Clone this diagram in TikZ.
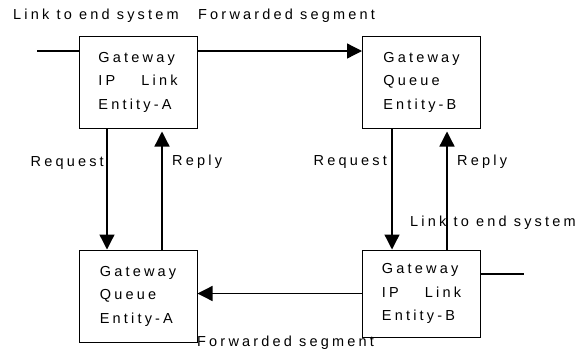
\documentclass[tikz,border=0pt]{standalone}
\usepackage{fontspec}
\setmainfont{Liberation Sans}[LetterSpace=22]
\usetikzlibrary{arrows.meta, positioning, calc}

\begin{document}
\begin{tikzpicture}[
  x=1pt, y=-1pt,
  gw/.style={draw, line width=1pt, minimum width=118pt, minimum height=92pt,
             align=left, font=\fontsize{14.5}{23.5}\selectfont},
  lbl/.style={font=\fontsize{14.5}{16}\selectfont, inner sep=0pt, anchor=west},
  link/.style={line width=1.3pt},
  arr/.style={link, -{Triangle[length=15pt,width=15pt]}}
]
\useasboundingbox (0,0) rectangle (585,351);

% Gateway boxes
\node[gw] (ipa) at (138,82) {Gateway\\IP\hspace{26pt}Link\\Entity-A};
\node[gw] (qb) at (421.5,82) {Gateway\\Queue\\Entity-B};
\node[gw, below=121pt of ipa] (qa) {Gateway\\Queue\\Entity-A};
\node[gw, minimum height=87pt, below=121pt of qb] (ipb) {Gateway\\IP\hspace{26pt}Link\\Entity-B};

% Free ends of the end-system links
\coordinate (lend) at (37,51);
\coordinate (rend) at (524,274);

% Segment links
\draw[link] (lend) -- (lend -| ipa.west);
\draw[arr] (ipa.east |- lend) -- (qb.west |- lend);
\draw[link] (rend -| ipb.east) -- (rend);
\draw[arr] (ipb.west) -- (ipb.west -| qa.east);

% Request / reply
\draw[arr] ([xshift=-31pt]ipa.south) -- ([xshift=-31pt]qa.north);
\draw[arr, shorten >=3pt] ([xshift=24pt]qa.north) -- ([xshift=24pt]ipa.south);
\draw[arr] ([xshift=-29.5pt]qb.south) -- ([xshift=-29.5pt]ipb.north);
\draw[arr, shorten >=3pt] ([xshift=25.5pt]ipb.north) -- ([xshift=25.5pt]qb.south);

% Labels
\node[lbl] (lnk1) at (13,16) {Link to end system};
\node[lbl] (fwd1) at (198,16) {Forwarded segment};
\node[lbl, anchor=east] (req1) at (104,163) {Request};
\node[lbl] (rep1) at (172,162) {Reply};
\node[lbl, anchor=east] (req2) at (387,162) {Request};
\node[lbl] (rep2) at (457,162) {Reply};
\node[lbl] (lnk2) at (410,223) {Link to end system};
\node[lbl] (fwd2) at (197,343) {Forwarded segment};
\end{tikzpicture}
\end{document}
